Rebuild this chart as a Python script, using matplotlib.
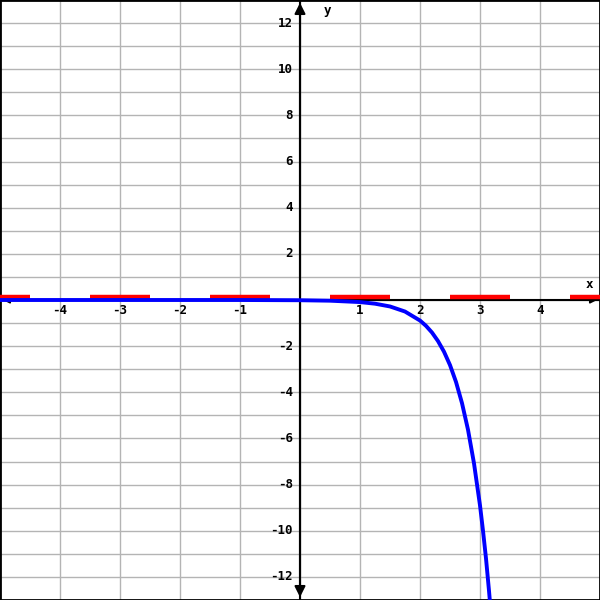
import matplotlib
matplotlib.use("Agg")
import matplotlib.pyplot as plt

# Blue curve, points
curve_x = [-5, -4, -3, -2, -1, 0, 0.5, 1.0, 1.25, 1.5, 1.75, 2.0, 2.1, 2.2, 2.3,
           2.4, 2.5, 2.6, 2.7, 2.8, 2.9, 3.0, 3.05, 3.1, 3.15, 3.2]
curve_y = [0, 0, 0, 0, 0, -0.01, -0.03, -0.09, -0.16, -0.28, -0.5, -0.89, -1.12,
           -1.41, -1.78, -2.24, -2.82, -3.55, -4.47, -5.62, -7.08, -8.9, -10.0,
           -11.2, -12.6, -14.1]

# Red dashes along the x axis
red_start = [-5, -3.5, -1.5, 0.5, 2.5, 4.5]
red_end = [-4.5, -2.5, -0.5, 1.5, 3.5, 5]
red_level = 0.15

# Ticks
x_ticks = [-4, -3, -2, -1, 1, 2, 3, 4]
y_ticks = [-12, -10, -8, -6, -4, -2, 2, 4, 6, 8, 10, 12]

xmin, xmax = -5, 5
ymin, ymax = -13, 13

fig = plt.figure(figsize=(6, 6), dpi=100)
ax = fig.add_axes([0, 0, 1, 1])
ax.set_xlim(xmin, xmax)
ax.set_ylim(ymin, ymax)

# grid
ax.set_xticks(range(xmin, xmax + 1))
ax.set_yticks(range(ymin, ymax + 1))
ax.grid(True, color="#b4b4b4", linewidth=1.0)
ax.tick_params(length=0, labelbottom=False, labelleft=False)
for s in ax.spines.values():
    s.set_color("black")
    s.set_linewidth(2)

# axes with arrows
ax.axhline(0, color="black", lw=1.5, zorder=3)
ax.axvline(0, color="black", lw=1.5, zorder=3)
arrow = dict(arrowstyle="-|>", color="black", lw=1.5, mutation_scale=16)
ax.annotate("", xy=(0, ymax), xytext=(0, 0), arrowprops=arrow, zorder=4)
ax.annotate("", xy=(0, ymin), xytext=(0, 0), arrowprops=arrow, zorder=4)
small = dict(arrowstyle="-|>", color="black", lw=1.2, mutation_scale=10)
ax.annotate("", xy=(xmax, 0), xytext=(0, 0), arrowprops=small, zorder=4)
ax.annotate("", xy=(xmin, 0), xytext=(0, 0), arrowprops=small, zorder=4)

# red dashes
ax.hlines([red_level] * len(red_start), red_start, red_end, color="red", lw=3.2, zorder=5)

# blue curve
ax.plot(curve_x, curve_y, color="blue", lw=2.8, zorder=6)

font = dict(family="DejaVu Sans Mono", weight="bold", size=9)
for t in x_ticks:
    ax.text(t, -0.45, str(t), ha="center", va="center", **font)
for t in y_ticks:
    ax.text(-0.12, t, str(t), ha="right", va="center", **font)
ax.text(4.82, 0.69, "x", ha="center", va="center", **font)
ax.text(0.45, 12.56, "y", ha="center", va="center", **font)

fig.savefig("out.png", dpi=100)
